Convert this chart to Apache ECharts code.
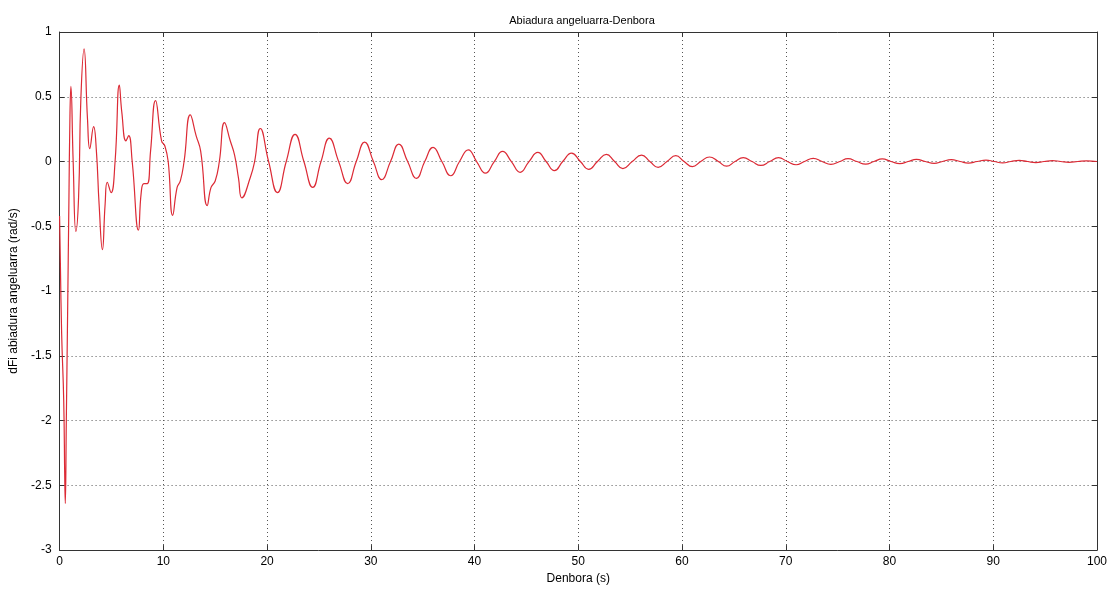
<!DOCTYPE html>
<html>
<head>
<meta charset="utf-8">
<script src="https://cdn.jsdelivr.net/npm/echarts@6/dist/echarts.min.js"></script>
<style>
html,body{margin:0;padding:0;background:#fff;}
#chart{width:1110px;height:590px;}
</style>
</head>
<body>
<div id="chart"></div>
<script>
// time (s)
var timeS = [
  0, 0.08, 0.2, 0.4, 0.5, 0.55, 0.65, 0.77, 0.9, 1.0, 1.09, 1.31, 1.57, 1.83, 2.05, 2.36,
  2.69, 2.91, 3.28, 3.55, 3.81, 4.13, 4.39, 4.6, 4.96, 5.35, 5.76, 6.0, 6.4, 6.66, 7.0,
  7.6, 7.87, 8.13, 8.45, 8.77, 9.25, 9.83, 10.15, 10.47, 10.9, 11.33, 11.64, 12.0, 12.6,
  13.16, 13.6, 14.23, 14.6, 15.0, 15.4, 15.9, 16.45, 16.87, 17.25, 17.57, 18.4, 18.8,
  19.35, 20.15, 21.0, 21.85, 22.7, 23.55, 24.4, 25.2, 26.0, 26.9, 27.77, 28.6, 29.4,
  30.25, 31.05, 31.9, 32.7, 33.55, 34.4, 35.2, 36.0, 36.85, 37.7, 38.55, 39.4, 40.2,
  41.05, 41.9, 42.7, 43.55, 44.4, 45.25, 46.1, 46.9, 47.7, 48.5, 49.35, 50.2, 51.0,
  51.85, 52.7, 53.5, 54.3, 55.2, 56.1, 56.9, 57.7, 58.55, 59.4, 60.2, 61.0, 61.8,
  62.65, 63.5, 64.3, 65.1, 65.9, 66.75, 67.6, 68.45, 69.3, 70.15, 71.0, 71.8, 72.65,
  73.5, 74.35, 75.2, 76.0, 76.85, 77.7, 78.5, 79.3, 80.15, 81.0, 81.8, 82.6, 83.45,
  84.3, 85.1, 85.95, 86.8, 87.6, 88.45, 89.3, 90.1, 90.9, 91.7, 92.5, 93.3, 94.1,
  94.9, 95.7, 96.5, 97.3, 98.15, 99.0, 100
];
// angular velocity (rad/s)
var omega = [
  -0.42, -0.8, -1.33, -1.85, -2.45, -2.64, -2.0, -1.2, -0.3, 0.35, 0.58, 0.0, -0.54, -0.28, 0.48, 0.87,
  0.33, 0.10, 0.27, 0.08, -0.33, -0.68, -0.33, -0.16, -0.24, 0.0, 0.59, 0.38, 0.16, 0.20, 0.0,
  -0.53, -0.24, -0.17, -0.17, 0.08, 0.47, 0.16, 0.12, 0.0, -0.415, -0.2, -0.15, 0.0, 0.36,
  0.20, 0.08, -0.34, -0.2, -0.15, 0.0, 0.30, 0.16, 0.05, -0.13, -0.28, -0.12, 0.0,
  0.255, 0, -0.24, 0, 0.21, 0, -0.20, 0, 0.18, 0, -0.17, 0, 0.15,
  0, -0.14, 0, 0.134, 0, -0.13, 0, 0.11, 0, -0.11, 0, 0.09, 0,
  -0.09, 0, 0.078, 0, -0.083, 0, 0.07, 0, -0.07, 0, 0.065, 0, -0.06,
  0, 0.055, 0, -0.055, 0, 0.05, 0, -0.045, 0, 0.045, 0, -0.04, 0,
  0.035, 0, -0.036, 0, 0.03, 0, -0.03, 0, 0.03, 0, -0.025, 0, 0.025,
  0, -0.022, 0, 0.022, 0, -0.02, 0, 0.02, 0, -0.016, 0, 0.016, 0,
  -0.014, 0, 0.014, 0, -0.012, 0, 0.011, 0, -0.01, 0, 0.009, 0, -0.008,
  0, 0.007, 0, -0.006, 0, 0.005, 0.0
];
var titleText = 'Abiadura angeluarra-Denbora';
var xLabel = 'Denbora (s)';
var yLabel = 'dFi abiadura angeluarra (rad/s)';

var data = timeS.map(function (t, i) { return [t, omega[i]]; });
var font = 'Liberation Sans, Arial, sans-serif';
var chart = echarts.init(document.getElementById('chart'));
var axisCommon = {
  axisLine: { show: true, onZero: false, lineStyle: { color: '#333', width: 1 } },
  axisTick: { show: true, inside: true, length: 5, lineStyle: { color: '#333' } },
  axisLabel: { color: '#000', fontFamily: font, fontSize: 12 }
};
chart.setOption({
  animation: false,
  backgroundColor: '#fff',
  title: {
    text: titleText, left: 577, top: 10, textAlign: 'center',
    textStyle: { fontFamily: font, fontSize: 11, fontWeight: 'normal', color: '#000' }
  },
  grid: { left: 56, right: 12, top: 32, bottom: 36, show: false },
  xAxis: [
    Object.assign({}, axisCommon, {
      type: 'value', min: 0, max: 100, interval: 10, position: 'bottom',
      name: xLabel, nameLocation: 'middle', nameGap: 19,
      nameTextStyle: { fontFamily: font, fontSize: 12, color: '#000' },
      axisLabel: { color: '#000', fontFamily: font, fontSize: 12, margin: 6 },
      splitLine: { show: true, lineStyle: { color: '#555', type: [1, 3], width: 1 } }
    }),
    Object.assign({}, axisCommon, {
      type: 'value', min: 0, max: 100, interval: 10, position: 'top',
      axisLabel: { show: false }, splitLine: { show: false }
    })
  ],
  yAxis: [
    Object.assign({}, axisCommon, {
      type: 'value', min: -3, max: 1, interval: 0.5, position: 'left',
      name: yLabel, nameLocation: 'middle', nameGap: 34,
      nameTextStyle: { fontFamily: font, fontSize: 12, color: '#000' },
      axisLabel: { color: '#000', fontFamily: font, fontSize: 12, margin: 8 },
      splitLine: { show: true, lineStyle: { color: '#555', type: [1, 3], width: 1 } }
    }),
    Object.assign({}, axisCommon, {
      type: 'value', min: -3, max: 1, interval: 0.5, position: 'right',
      axisLabel: { show: false }, splitLine: { show: false }
    })
  ],
  series: [{
    type: 'line', data: data, xAxisIndex: 0, yAxisIndex: 0,
    showSymbol: false, smooth: 0.5,
    lineStyle: { color: '#dc2a35', width: 1.2 }
  }]
});
</script>
</body>
</html>
